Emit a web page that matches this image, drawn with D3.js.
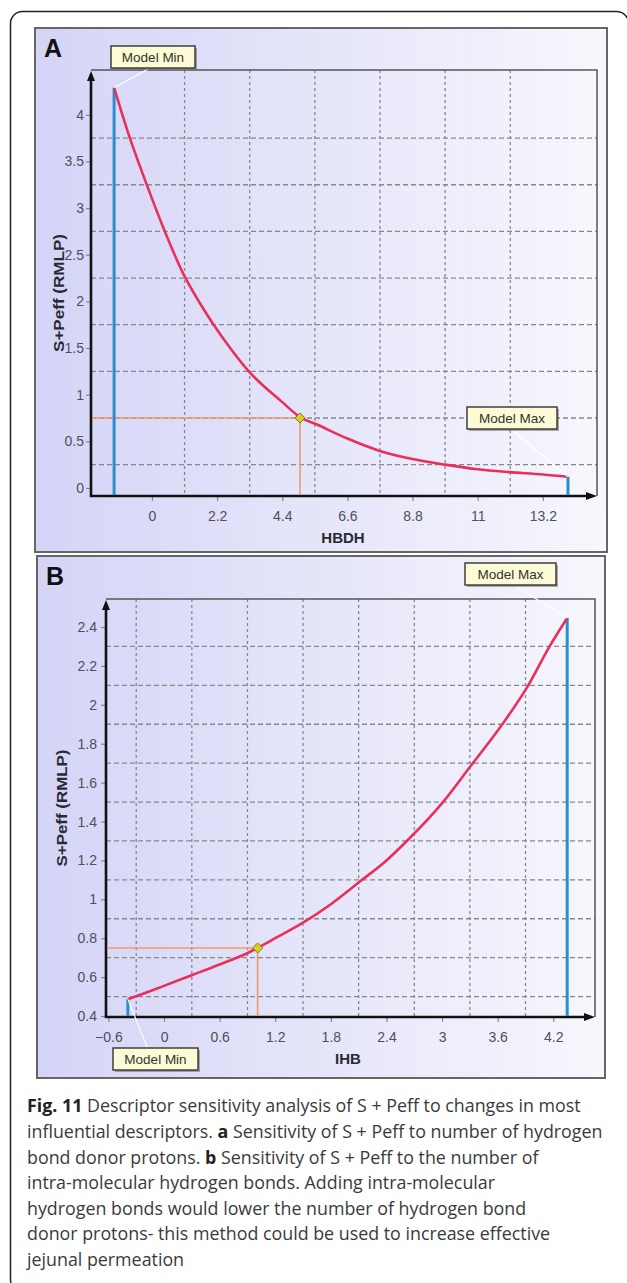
<!DOCTYPE html>
<html>
<head>
<meta charset="utf-8">
<script src="https://cdn.jsdelivr.net/npm/d3@7"></script>
<style>
  body { margin: 0; background: #fff; }
  svg { display: block; }
</style>
</head>
<body>
<svg id="fig" width="627" height="1283"></svg>
<script>
// ---- panel A : HBDH ----
const hbdhTicks = [0, 2.2, 4.4, 6.6, 8.8, 11, 13.2];
const peffTicksA = [0, 0.5, 1, 1.5, 2, 2.5, 3, 3.5, 4];
const hbdhValues = [-1.28, -0.8, -0.2, 0.37, 1.05, 1.62, 2.06, 2.64, 3.24, 4.4, 5.0, 5.57, 6.6, 7.67, 8.8, 9.9, 11, 12.06, 13.2, 14.05];
const peffA = [4.29, 3.80, 3.27, 2.80, 2.30, 1.98, 1.76, 1.50, 1.26, 0.92, 0.76, 0.68, 0.53, 0.40, 0.31, 0.25, 0.20, 0.17, 0.145, 0.12];
const modelMinA = [-1.28, 4.29];
const modelMaxA = [14.05, 0.12];
const currentA = [5.0, 0.75];

// ---- panel B : IHB ----
const ihbTicks = [-0.6, 0, 0.6, 1.2, 1.8, 2.4, 3, 3.6, 4.2];
const peffTicksB = [0.4, 0.6, 0.8, 1, 1.2, 1.4, 1.6, 1.8, 2, 2.2, 2.4];
const ihbValues = [-0.39, -0.28, 0.0, 0.30, 0.6, 0.92, 1.01, 1.2, 1.5, 1.8, 2.11, 2.4, 2.62, 3.01, 3.30, 3.65, 3.93, 4.16, 4.35];
const peffB = [0.487, 0.505, 0.555, 0.61, 0.665, 0.728, 0.75, 0.80, 0.88, 0.975, 1.09, 1.20, 1.30, 1.50, 1.68, 1.90, 2.10, 2.30, 2.446];
const modelMinB = [-0.39, 0.487];
const modelMaxB = [4.35, 2.446];
const currentB = [1.01, 0.75];

const yTitle = "S+Peff (RMLP)";
const captionLines = [
  [["Fig. 11", true], [" Descriptor sensitivity analysis of S + Peff to changes in most", false]],
  [["influential descriptors. ", false], ["a", true], [" Sensitivity of S + Peff to number of hydrogen", false]],
  [["bond donor protons. ", false], ["b", true], [" Sensitivity of S + Peff to the number of", false]],
  [["intra-molecular hydrogen bonds. Adding intra-molecular", false]],
  [["hydrogen bonds would lower the number of hydrogen bond", false]],
  [["donor protons- this method could be used to increase effective", false]],
  [["jejunal permeation", false]]
];

const svg = d3.select("#fig");
const defs = svg.append("defs");
const grad = defs.append("linearGradient").attr("id", "bg")
  .attr("x1", 0).attr("x2", 1).attr("y1", 0).attr("y2", 0);
grad.append("stop").attr("offset", "0%").attr("stop-color", "#d4d4f7");
grad.append("stop").attr("offset", "100%").attr("stop-color", "#f7f7fd");

// outer rounded frame
svg.append("rect")
  .attr("x", 10.5).attr("y", 11.5).attr("width", 618).attr("height", 1280)
  .attr("rx", 12).attr("fill", "none").attr("stroke", "#222").attr("stroke-width", 1.5);

const font = "'Liberation Sans', Arial, sans-serif";

function drawPanel(o) {
  const g = svg.append("g");
  // panel box
  g.append("rect")
    .attr("x", o.box[0]).attr("y", o.box[1])
    .attr("width", o.box[2] - o.box[0]).attr("height", o.box[3] - o.box[1])
    .attr("fill", "url(#bg)").attr("stroke", "#666").attr("stroke-width", 2);

  g.append("text")
    .attr("x", o.box[0] + 9).attr("y", o.box[1] + 29)
    .attr("font-family", font).attr("font-weight", "bold").attr("font-size", 25)
    .attr("fill", "#111").text(o.letter);

  const [l, t, r, b] = o.plot;
  const x = d3.scaleLinear().domain(o.xDom).range([l, r]);
  const y = d3.scaleLinear().domain(o.yDom).range([b, t]);

  // grid at midpoints between ticks
  const xGrid = d3.pairs(o.xTicks).map(p => (p[0] + p[1]) / 2);
  const yGrid = d3.pairs(o.yTicks).map(p => (p[0] + p[1]) / 2);
  g.selectAll(".vg").data(xGrid).enter().append("line")
    .attr("x1", d => x(d)).attr("x2", d => x(d)).attr("y1", t).attr("y2", b)
    .attr("stroke", "#888").attr("stroke-width", 1.3).attr("stroke-dasharray", "3,3");
  g.selectAll(".hg").data(yGrid).enter().append("line")
    .attr("x1", l).attr("x2", r).attr("y1", d => y(d)).attr("y2", d => y(d))
    .attr("stroke", "#888").attr("stroke-width", 1.3).attr("stroke-dasharray", "5,3");

  // frame top / right
  g.append("path")
    .attr("d", `M${l},${t}H${r}V${b}`)
    .attr("fill", "none").attr("stroke", "#555").attr("stroke-width", 1.5);

  // axes ticks and labels
  const ax = g.append("g").attr("transform", `translate(0,${b})`)
    .call(d3.axisBottom(x).tickValues(o.xTicks).tickSize(5).tickPadding(10).tickFormat(d3.format("")));
  const ay = g.append("g").attr("transform", `translate(${l},0)`)
    .call(d3.axisLeft(y).tickValues(o.yTicks).tickSize(5).tickPadding(o.yPad).tickFormat(d3.format("")));
  [ax, ay].forEach(a => {
    a.select(".domain").remove();
    a.selectAll(".tick line").attr("stroke", "#888").attr("stroke-width", 1.2);
    a.selectAll(".tick text").attr("font-family", font).attr("font-size", 14).attr("fill", "#4f4f5a");
  });

  // axis lines with arrows
  g.append("path").attr("d", `M${l},${b + 1}V${t + 6}`)
    .attr("stroke", "#111").attr("stroke-width", 2.6);
  g.append("path").attr("d", `M${l - 1},${b}H${r - 6}`)
    .attr("stroke", "#111").attr("stroke-width", 2.6);
  g.append("path").attr("d", `M${l - 4},${t + 11}L${l},${t + 1}L${l + 4},${t + 11}Z`).attr("fill", "#111");
  g.append("path").attr("d", `M${r - 11},${b - 4}L${r},${b}L${r - 11},${b + 4}Z`).attr("fill", "#111");

  // current value guide lines
  g.append("path")
    .attr("d", `M${l + 1},${y(o.cur[1])}H${x(o.cur[0])}V${b - 1}`)
    .attr("fill", "none").attr("stroke", "#f29a6c").attr("stroke-width", 1.6);

  // model range bars
  [o.min, o.max].forEach(p => {
    g.append("line")
      .attr("x1", x(p[0])).attr("x2", x(p[0])).attr("y1", b - 1).attr("y2", y(p[1]))
      .attr("stroke", "#2b8ecf").attr("stroke-width", 3);
  });

  // sensitivity curve
  const line = d3.line().x(d => x(d[0])).y(d => y(d[1])).curve(d3.curveMonotoneX);
  g.append("path").datum(d3.zip(o.xs, o.ys))
    .attr("d", line).attr("fill", "none")
    .attr("stroke", "#ea2f5c").attr("stroke-width", 2.6).attr("stroke-linejoin", "round");

  // current point marker
  const cx = x(o.cur[0]), cy = y(o.cur[1]);
  g.append("path")
    .attr("d", `M${cx},${cy - 5}L${cx + 5},${cy}L${cx},${cy + 5}L${cx - 5},${cy}Z`)
    .attr("fill", "#d9cf1e").attr("stroke", "#7a7a20").attr("stroke-width", 1);

  // callouts
  [[o.minBox, o.min, "Model Min"], [o.maxBox, o.max, "Model Max"]].forEach(([bx, p, label]) => {
    g.append("line")
      .attr("x1", bx.lx).attr("y1", bx.ly).attr("x2", x(p[0])).attr("y2", y(p[1]))
      .attr("stroke", "#fff").attr("stroke-width", 1.2);
    g.append("rect").attr("x", bx.x + 2).attr("y", bx.y + 2).attr("width", bx.w).attr("height", bx.h)
      .attr("fill", "#777").attr("opacity", 0.6);
    g.append("rect").attr("x", bx.x).attr("y", bx.y).attr("width", bx.w).attr("height", bx.h)
      .attr("fill", "#fdfbd6").attr("stroke", "#333").attr("stroke-width", 1.4);
    g.append("text").attr("x", bx.x + bx.w / 2).attr("y", bx.y + bx.h / 2).attr("dy", "0.36em")
      .attr("text-anchor", "middle").attr("font-family", font).attr("font-size", 13.5)
      .attr("fill", "#333").text(label);
  });

  // titles
  g.append("text").attr("x", o.xTitle[0]).attr("y", o.xTitle[1])
    .attr("text-anchor", "middle").attr("font-family", font).attr("font-weight", "bold")
    .attr("font-size", 15).attr("fill", "#2a2a35").text(o.xLabel);
  g.append("text")
    .attr("transform", `translate(${o.yTitle[0]},${o.yTitle[1]}) rotate(-90)`)
    .attr("text-anchor", "middle").attr("dy", "0.36em")
    .attr("font-family", font).attr("font-weight", "bold").attr("font-size", 15.5)
    .attr("textLength", o.yTitle[2]).attr("lengthAdjust", "spacingAndGlyphs")
    .attr("fill", "#2a2a35").text(yTitle);
}

drawPanel({
  letter: "A", box: [35, 28, 607, 552], plot: [91, 70, 597, 496],
  xDom: [-2.06, 15.03], yDom: [-0.086, 4.48],
  xTicks: hbdhTicks, yTicks: peffTicksA, yPad: 2,
  xs: hbdhValues, ys: peffA, min: modelMinA, max: modelMaxA, cur: currentA,
  minBox: { x: 111, y: 46, w: 84, h: 22, lx: 148, ly: 69 },
  maxBox: { x: 467, y: 407, w: 90, h: 22, lx: 513, ly: 431 },
  xLabel: "HBDH", xTitle: [343, 543], yTitle: [58, 293, 118]
});

drawPanel({
  letter: "B", box: [37, 556, 605, 1078], plot: [106, 599, 595, 1017],
  xDom: [-0.626, 4.65], yDom: [0.395, 2.544],
  xTicks: ihbTicks, yTicks: peffTicksB, yPad: 4,
  xs: ihbValues, ys: peffB, min: modelMinB, max: modelMaxB, cur: currentB,
  minBox: { x: 113, y: 1048, w: 85, h: 22, lx: 147, ly: 1047 },
  maxBox: { x: 465, y: 563, w: 91, h: 22, lx: 517, ly: 587 },
  xLabel: "IHB", xTitle: [348, 1064], yTitle: [61, 808, 117]
});

// caption
const cap = svg.append("g").attr("font-family", "'Open Sans', 'Noto Sans', sans-serif")
  .attr("font-size", 17.5).attr("fill", "#3a3a3a");
const baselines = [1112, 1138, 1164, 1189, 1215, 1240, 1266];
const capTexts = captionLines.map((parts, i) => {
  const t = cap.append("text").attr("x", 0).attr("y", baselines[i]);
  parts.forEach(([s, bold]) => {
    t.append("tspan").attr("font-weight", bold ? 700 : 400)
      .attr("fill", bold ? "#222" : null).text(s);
  });
  return t;
});
// squeeze to the narrower face used in the figure (lines 1-2 end near x 605)
const w1 = capTexts[0].node().getComputedTextLength();
const w2 = capTexts[1].node().getComputedTextLength();
const sx = Math.min(580 / w1, 576 / w2);
cap.attr("transform", `translate(27,0) scale(${sx},1)`);
</script>
</body>
</html>
